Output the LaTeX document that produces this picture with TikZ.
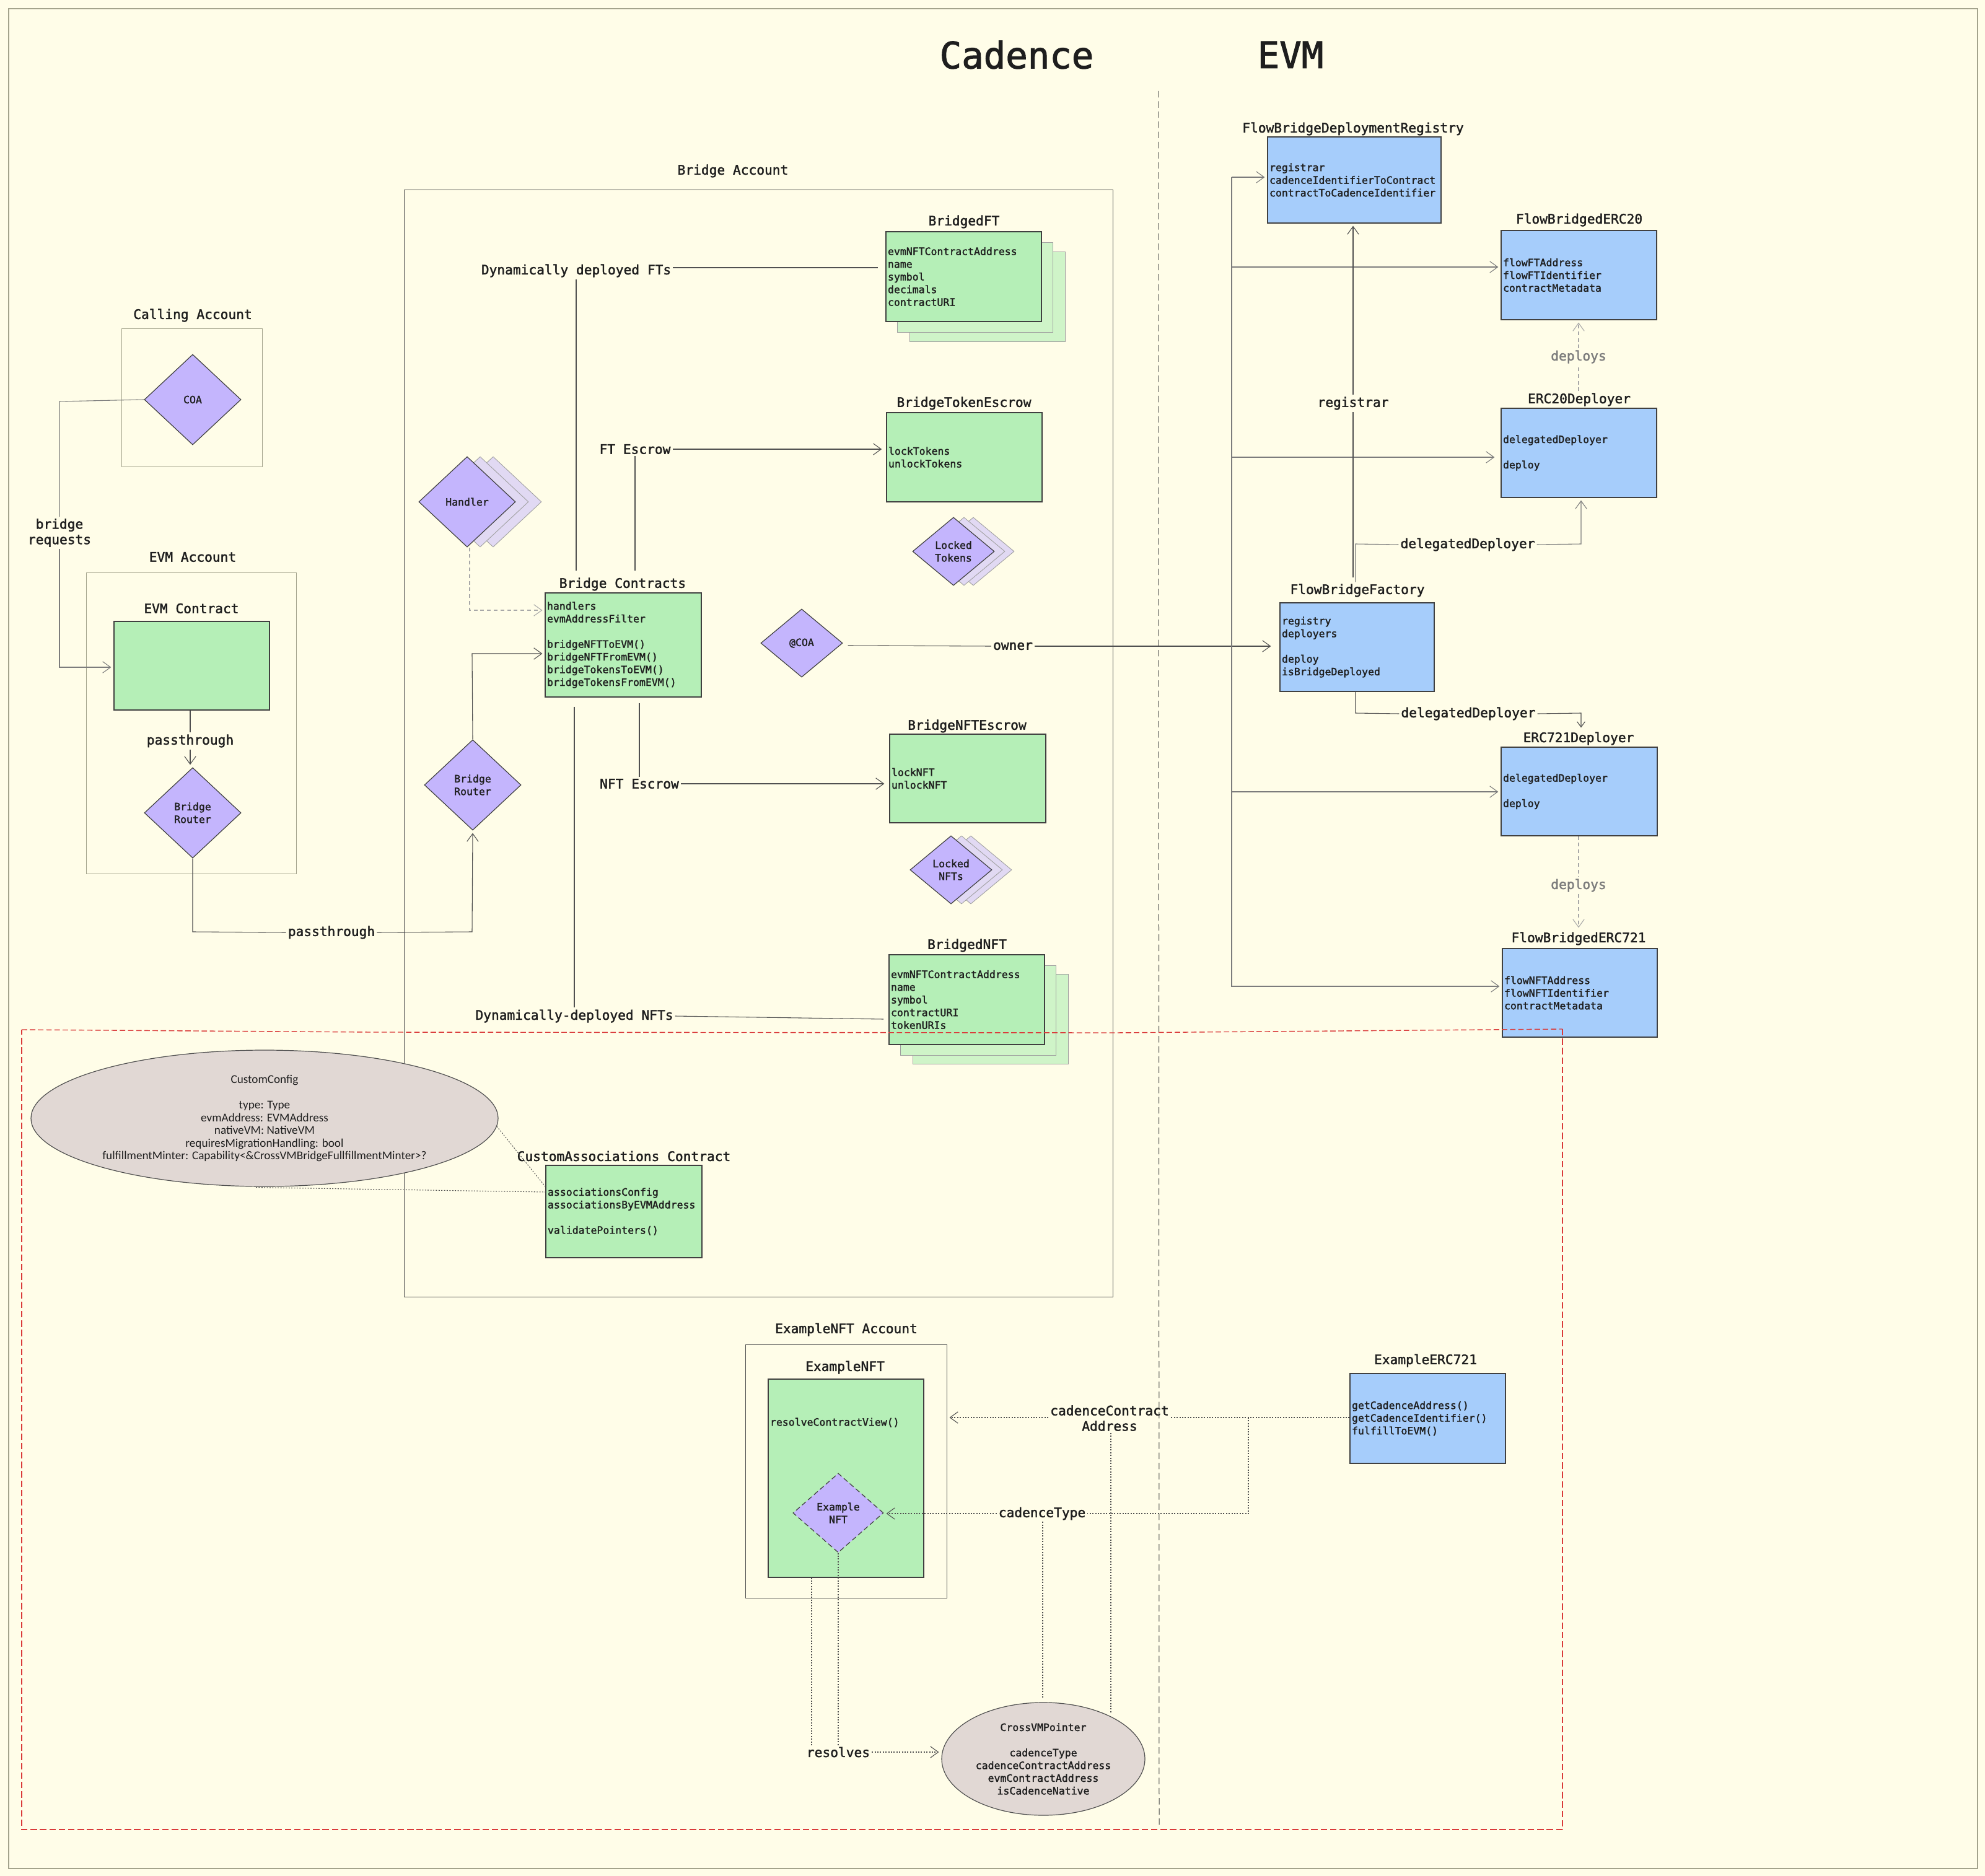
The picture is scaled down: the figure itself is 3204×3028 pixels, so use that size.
\documentclass[tikz,border=0pt]{standalone}
\usepackage{fontspec}
\setmainfont{Carlito}
\setmonofont[RawFeature={embolden=1.8}]{DejaVu Sans Mono}
\usetikzlibrary{shapes.geometric,arrows.meta,calc}
\definecolor{bg}{HTML}{FFFDE8}
\definecolor{framec}{HTML}{A3A38C}
\definecolor{ink}{HTML}{505050}
\definecolor{gfill}{HTML}{B5EFB7}
\definecolor{bfill}{HTML}{A6CDFB}
\definecolor{pfill}{HTML}{C4B5FD}
\definecolor{efill}{HTML}{E1D8D4}
\definecolor{redd}{HTML}{DA3A3A}
\definecolor{txt}{HTML}{1E1E1E}
\newcommand\smallmono{\ttfamily\fontsize{4.125}{5.125}\selectfont}
\newcommand\labmono{\ttfamily\fontsize{5.3}{6.25}\selectfont}
\newcommand\hand{\rmfamily\fontsize{4.8}{5.15}\selectfont}
\newcommand\bx[7]{%
  \pgfmathsetmacro\myw{(#5-#3)*0.25}\pgfmathsetmacro\myh{(#6-#4)*0.25}%
  \pgfmathsetmacro\myx{(#3+#5)/2}\pgfmathsetmacro\myy{(#4+#6)/2}%
  \node[#1,minimum width=\myw pt,minimum height=\myh pt,text width=\myw pt-1.5pt] (#2) at (\myx,\myy) {#7};}
\tikzset{
  conbox/.style={draw=ink!80!black,line width=.3pt,fill=gfill,inner sep=.75pt,align=left,font=\smallmono,text=txt},
  bluebox/.style={conbox,fill=bfill},
  ghostbox/.style={conbox,draw=ink!55,fill=gfill!65!bg,line width=.22pt},
  acct/.style={draw=framec,line width=.25pt,inner sep=0pt},
  bigacct/.style={draw=ink,line width=.25pt,inner sep=0pt},
  dia/.style={shape=diamond,draw=ink!80!black,line width=.3pt,fill=pfill,inner sep=0pt,align=center,font=\smallmono,text=txt,minimum width=156*.25pt,minimum height=146*.25pt},
  smalldia/.style={dia,minimum width=132*.25pt,minimum height=110*.25pt},
  ghostdia/.style={dia,draw=ink!55,fill=pfill!50!bg,line width=.22pt},
  ghostsmall/.style={smalldia,draw=ink!55,fill=pfill!50!bg,line width=.22pt},
  lab/.style={font=\labmono,text=txt,inner sep=.6pt,align=center,yshift=-.5pt},
  elab/.style={lab,fill=bg},
  note/.style={shape=ellipse,draw=ink,line width=.3pt,fill=efill,inner sep=0pt,align=center,text=txt},
  conn/.style={draw=ink,line width=.27pt},
  arr/.style={conn,-{Straight Barb[length=3.2pt,width=4.6pt]},shorten >=1pt},
  faint/.style={conn,draw=ink!75},
  faintarr/.style={arr,draw=ink!75},
  dashgrey/.style={arr,draw=ink!50,dash pattern=on 1.5pt off 1.2pt},
  dots/.style={conn,line width=.27pt,dash pattern=on .5pt off .6pt},
  dotsarr/.style={arr,line width=.27pt,dash pattern=on .5pt off .6pt},
}
\begin{document}
\begin{tikzpicture}[x=0.25pt,y=-0.25pt]
\useasboundingbox (0,0) rectangle (3204,3028);
\fill[bg] (0,0) rectangle (3204,3028);
\draw[framec,line width=.3pt] (14,14) rectangle (3192,3016);
% titles
\node[font=\ttfamily\fontsize{14.75}{16}\selectfont,text=txt,yshift=.4pt] (tcad) at (1641,90) {Cadence};
\node[font=\ttfamily\fontsize{14.75}{16}\selectfont,text=txt,yshift=.4pt] (tevm) at (2083,90) {EVM};
% accounts
\bx{bigacct}{brAcct}{652}{307}{1796}{2093}{}
\node[lab] (brAcctT) at (1183,274) {Bridge Account};
\bx{acct}{callAcct}{196}{531}{423}{754}{}
\node[lab] (callAcctT) at (311,507) {Calling Account};
\bx{acct}{evmAcct}{139}{924}{478}{1410}{}
\node[lab] (evmAcctT) at (311,897) {EVM Account};
\bx{bigacct}{exAcct}{1203}{2170}{1528}{2579}{}
\node[lab] (exAcctT) at (1366,2144) {ExampleNFT Account};
% left side
\node[dia] (coa) at (311,645) {COA};
\bx{conbox}{evmC}{184}{1003}{435}{1146}{}
\node[lab] (evmCT) at (309,980) {EVM Contract};
\node[dia] (rtrA) at (311,1312) {Bridge\\Router};
\node[dia] (rtrB) at (763,1267) {Bridge\\Router};
\node[elab] (lbReq) at (96,858) {bridge\\requests};
\node[elab] (lbPass) at (307,1194) {passthrough};
\node[elab] (lbPass2) at (535,1503) {passthrough};
\coordinate (reqA) at (96,648);
\coordinate (reqB) at (96,1077);
\coordinate (passA) at (311,1504);
\coordinate (passB) at (762,1504);
\coordinate (rtrIn) at (762,1055);
\draw[faint] (coa.west) -- ++(-.1,0) -- (reqA) -- (lbReq.north);
\draw[faintarr] (lbReq.south) -- (reqB) -- (reqB -| evmC.west);
\draw[conn] (evmC.south -| lbPass) -- (lbPass.north);
\draw[arr] (lbPass.south) -- (lbPass.south |- rtrA.north);
\draw[conn] (rtrA.south) -- (passA) -- (lbPass2.west);
\draw[arr] (lbPass2.east) -- (passB) -- (rtrB.south);
% bridge contracts
\bx{conbox}{bc}{880}{957}{1132}{1125}{handlers\\evmAddressFilter\\~\\bridgeNFTToEVM()\\bridgeNFTFromEVM()\\bridgeTokensToEVM()\\bridgeTokensFromEVM()}
\node[lab] (bcT) at (1005,941) {Bridge Contracts};
\draw[arr] (rtrB.north) -- (rtrIn) -- (rtrIn -| bc.west);
% handler
\node[ghostdia] (hand3) at (796,810) {};
\node[ghostdia] (hand2) at (775,810) {};
\node[dia] (hand1) at (754,810) {Handler};
\coordinate (handIn) at (758,985);
\draw[dashgrey] (hand1.south -| handIn) -- (handIn) -- (handIn -| bc.west);
% FT
\bx{ghostbox}{ft3}{1468}{406}{1719}{551}{}
\bx{ghostbox}{ft2}{1448}{391}{1699}{536}{}
\bx{conbox}{ft1}{1430}{374}{1681}{519}{evmNFTContractAddress\\name\\symbol\\decimals\\contractURI}
\node[lab] (ftT) at (1556,356) {BridgedFT};
\node[elab] (lbDF) at (930,435) {Dynamically deployed FTs};
\coordinate (dfEnd) at (1417,432);
\draw[conn] (lbDF.east |- dfEnd) -- (dfEnd);
\draw[conn] (lbDF.south) -- ([yshift=2.2pt]lbDF.south |- bcT.north);
% token escrow
\bx{conbox}{tokE}{1431}{666}{1682}{810}{lockTokens\\unlockTokens}
\node[lab] (tokET) at (1556,649) {BridgeTokenEscrow};
\node[elab] (lbFE) at (1025,723) {FT Escrow};
\draw[arr,shorten >=1.8pt] (lbFE.east) -- (lbFE.east -| tokE.west);
\draw[conn] (lbFE.south) -- ([yshift=2.2pt]lbFE.south |- bcT.north);
\node[ghostsmall] (lt3) at (1571,890) {};
\node[ghostsmall] (lt2) at (1556,890) {};
\node[smalldia] (lt1) at (1539,890) {Locked\\Tokens};
% @COA
\node[smalldia] (acoa) at (1294,1038) {@COA};
% NFT escrow
\bx{conbox}{nftE}{1436}{1185}{1688}{1328}{lockNFT\\unlockNFT}
\node[lab] (nftET) at (1561,1170) {BridgeNFTEscrow};
\node[elab] (lbNE) at (1032,1263) {NFT Escrow};
\draw[conn] (bc.south -| lbNE) ++(0,9) -- (lbNE.north);
\draw[arr,shorten >=2pt] (lbNE.east) -- (lbNE.east -| nftE.west);
\node[ghostsmall] (ln3) at (1567,1404) {};
\node[ghostsmall] (ln2) at (1552,1404) {};
\node[smalldia] (ln1) at (1535,1404) {Locked\\NFTs};
% bridged NFT
\bx{ghostbox}{nf3}{1473}{1572}{1724}{1717}{}
\bx{ghostbox}{nf2}{1453}{1558}{1704}{1703}{}
\bx{conbox}{nf1}{1435}{1541}{1686}{1686}{evmNFTContractAddress\\name\\symbol\\contractURI\\tokenURIs}
\node[lab] (nfT) at (1561,1524) {BridgedNFT};
\node[elab] (lbDN) at (927,1638) {Dynamically-deployed NFTs};
\coordinate (dnEnd) at (1426,1645);
\draw[conn] (lbDN.east) -- (dnEnd);
\draw[conn] (bc.south -| lbDN) ++(0,15) -- (lbDN.north);
% custom associations
\node[note,font=\hand,minimum width=754*.25pt,minimum height=220*.25pt] (cfg) at (427,1805) {CustomConfig\\~\\type: Type\\evmAddress: EVMAddress\\nativeVM: NativeVM\\requiresMigrationHandling: bool\\fulfillmentMinter: Capability<\&CrossVMBridgeFullfillmentMinter>?};
\bx{conbox}{ca}{881}{1881}{1133}{2030}{associationsConfig\\associationsByEVMAddress\\~\\validatePointers()}
\node[lab] (caT) at (1007,1864) {CustomAssociations Contract};
\coordinate (caA) at (880,1915);
\coordinate (caB) at (880,1924);
\draw[dots] (cfg.-2) -- (caA);
\draw[dots] (cfg.south) ++(-14,1) -- (caB);
% right column
\bx{bluebox}{reg}{2046}{221}{2326}{360}{registrar\\cadenceIdentifierToContract\\contractToCadenceIdentifier}
\node[lab] (regT) at (2184,206) {FlowBridgeDeploymentRegistry};
\bx{bluebox}{e20}{2423}{372}{2674}{516}{flowFTAddress\\flowFTIdentifier\\contractMetadata}
\node[lab] (e20T) at (2549,353) {FlowBridgedERC20};
\bx{bluebox}{d20}{2423}{659}{2674}{803}{delegatedDeployer\\~\\deploy}
\node[lab] (d20T) at (2549,643) {ERC20Deployer};
\bx{bluebox}{fac}{2066}{973}{2315}{1116}{registry\\deployers\\~\\deploy\\isBridgeDeployed}
\node[lab] (facT) at (2191,951) {FlowBridgeFactory};
\bx{bluebox}{d721}{2423}{1206}{2675}{1349}{delegatedDeployer\\~\\deploy}
\node[lab] (d721T) at (2548,1190) {ERC721Deployer};
\bx{bluebox}{e721}{2425}{1531}{2675}{1674}{flowNFTAddress\\flowNFTIdentifier\\contractMetadata}
\node[lab] (e721T) at (2548,1513) {FlowBridgedERC721};
% owner and bus
\node[elab] (lbOwn) at (1635,1041) {owner};
\draw[conn] (acoa.east) ++(8,4) -- (lbOwn.west);
\draw[arr,shorten >=3.5pt] (lbOwn.east) -- (lbOwn.east -| fac.west);
\coordinate (bTop) at (1988,286);
\coordinate (b20) at (1988,431);
\coordinate (bD20) at (1988,738);
\coordinate (bD721) at (1988,1278);
\coordinate (bBot) at (1990,1592);
\draw[faint] (bTop) -- (1988,1592) -- (bBot);
\draw[faintarr] (bTop) -- (bTop -| reg.west);
\draw[faintarr] (b20) -- (b20 -| e20.west);
\draw[faintarr,shorten >=2.5pt] (bD20) -- (bD20 -| d20.west);
\draw[faintarr] (bD721) -- (bD721 -| d721.west);
\draw[faintarr] (bBot) -- (bBot -| e721.west);
% factory links
\node[elab] (lbReg) at (2184,649) {registrar};
\draw[conn] (fac.north -| lbReg) ++(0,-40) -- (lbReg.south);
\draw[arr] (lbReg.north) -- (lbReg.north |- reg.south);
\node[elab] (lbDel1) at (2369,877) {delegatedDeployer};
\node[elab] (lbDel2) at (2370,1150) {delegatedDeployer};
\coordinate (del1a) at (2188,878);
\coordinate (del1b) at (2552,878);
\coordinate (del2a) at (2188,1151);
\coordinate (del2b) at (2552,1151);
\draw[faint] (del1a |- facT.north) -- (del1a) -- (lbDel1.west);
\draw[faintarr] (lbDel1.east) -- (del1b) -- (del1b |- d20.south);
\draw[conn] (del2a |- fac.south) -- (del2a) -- (lbDel2.west);
\draw[arr,-{Straight Barb[length=2.2pt,width=3.2pt]}] (lbDel2.east) -- (del2b) -- (del2b |- d721T.north);
\node[elab,text=ink!75] (lbDep1) at (2548,574) {deploys};
\node[elab,text=ink!75] (lbDep2) at (2548,1427) {deploys};
\draw[dashgrey,shorten >=0pt,-] (lbDep1.south |- d20T.north) -- (lbDep1.south);
\draw[dashgrey] (lbDep1.north) -- (lbDep1.north |- e20.south);
\draw[dashgrey,shorten >=0pt,-] (d721.south -| lbDep2) -- (lbDep2.north);
\draw[dashgrey] (lbDep2.south) -- (lbDep2.south |- e721T.north);
% example
\bx{conbox}{exN}{1240}{2226}{1491}{2546}{resolveContractView()\\[40.4pt]~}
\node[lab] (exNT) at (1364,2205) {ExampleNFT};
\node[dia,dash pattern=on 2pt off 1.2pt,minimum width=146*.25pt,minimum height=128*.25pt] (exD) at (1353,2442) {Example\\NFT};
\bx{bluebox}{erc}{2179}{2217}{2430}{2362}{getCadenceAddress()\\getCadenceIdentifier()\\fulfillToEVM()}
\node[lab] (ercT) at (2301,2194) {ExampleERC721};
\node[note,font=\smallmono,minimum width=328*.25pt,minimum height=182*.25pt] (ptr) at (1684,2839) {CrossVMPointer\\~\\cadenceType\\cadenceContractAddress\\evmContractAddress\\isCadenceNative};
\node[elab] (lbCC) at (1791,2287) {cadenceContract\\Address};
\node[elab] (lbCT) at (1682,2441) {cadenceType};
\node[elab] (lbRes) at (1353,2826) {resolves};
\coordinate (sp) at (2015,2288);
\coordinate (spB) at (2015,2443);
\draw[dots] (erc.west |- sp) -- (lbCC.east |- sp);
\draw[dotsarr] (lbCC.west |- sp) -- (lbCC.west |- sp -| exAcct.east);
\draw[dots] (sp) -- (spB) -- (lbCT.east);
\draw[dotsarr] (lbCT.west) -- (lbCT.west -| exD.east);
\draw[dots] (lbCC.south) ++(2,0) -- ++(0,452);
\draw[dots] (lbCT.south) ++(1,0) -- ($(lbCT.south |- ptr.north)+(1,-6)$);
\draw[dots] (exN.south -| 1310,0) -- (lbRes.north -| 1310,0);
\draw[dots] (exD.south) -- (lbRes.north);
\draw[dotsarr] (lbRes.east) -- (lbRes.east -| ptr.west);
% boundaries
\coordinate (rA) at (35,1662);
\coordinate (rT1) at (600,1666);
\coordinate (rT2) at (1800,1667);
\coordinate (rB) at (2522,1661);
\coordinate (rC) at (2522,2953);
\coordinate (rD) at (35,2953);
\draw[redd,line width=.35pt,dash pattern=on 2.2pt off 1.1pt] (rA) -- (rT1) -- (rT2) -- (rB);
\draw[redd,line width=.3pt,dash pattern=on 2.6pt off 1.2pt] (rB) -- (rC) -- (rD) -- (rA);
\coordinate (divA) at (1870,147);
\coordinate (divB) at (1871,2946);
\draw[ink!90!black,line width=.25pt,dash pattern=on 2.6pt off 1.5pt] (divA) -- (divB);
\end{tikzpicture}
\end{document}
